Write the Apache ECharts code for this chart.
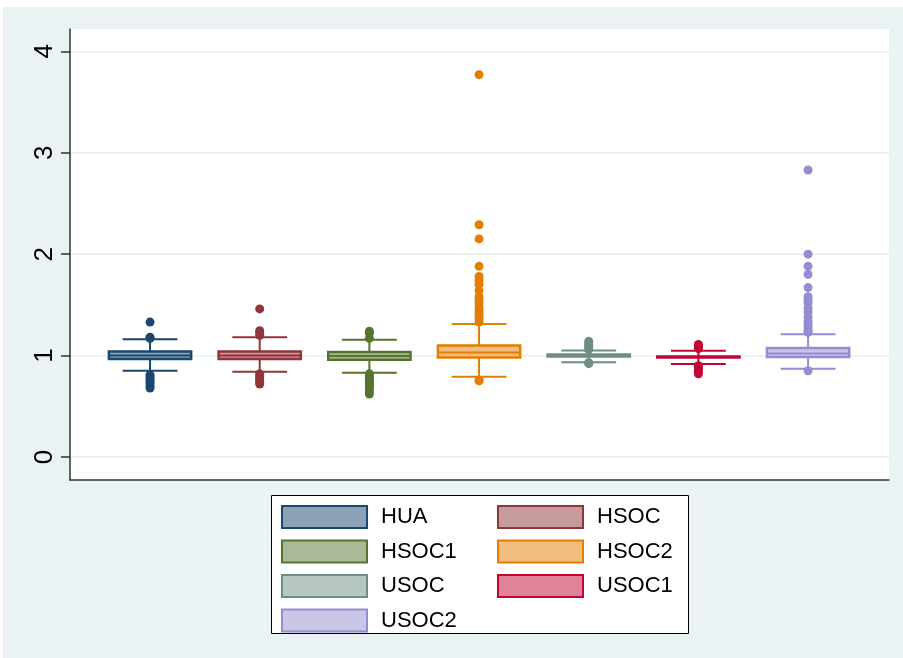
<!DOCTYPE html>
<html><head><meta charset="utf-8">
<script src="https://cdn.jsdelivr.net/npm/echarts@6/dist/echarts.min.js"></script>
<style>html,body{margin:0;padding:0;background:#fff}#c{width:903px;height:658px}</style>
</head><body><div id="c"></div>
<script>
const categories = ['HUA', 'HSOC', 'HSOC1', 'HSOC2', 'USOC', 'USOC1', 'USOC2'];
// [lower whisker, Q1, median, Q3, upper whisker]
const boxHUA   = [0.85, 0.965, 1.00, 1.04, 1.16];
const boxHSOC  = [0.84, 0.965, 1.00, 1.04, 1.18];
const boxHSOC1 = [0.83, 0.958, 0.995, 1.035, 1.156];
const boxHSOC2 = [0.79, 0.98, 1.03, 1.10, 1.31];
const boxUSOC  = [0.935, 0.99, 1.00, 1.01, 1.05];
const boxUSOC1 = [0.916, 0.98, 0.985, 0.99, 1.047];
const boxUSOC2 = [0.87, 0.985, 1.02, 1.075, 1.21];
// outliers
const outHUA   = [1.33, 1.18, 1.17, 0.81, 0.79, 0.77, 0.75, 0.73, 0.70, 0.68];
const outHSOC  = [1.46, 1.245, 1.225, 1.20, 0.82, 0.80, 0.78, 0.76, 0.74, 0.72];
const outHSOC1 = [1.24, 1.22, 1.17, 0.82, 0.80, 0.78, 0.76, 0.74, 0.72, 0.70, 0.68, 0.65, 0.62];
const outHSOC2 = [3.77, 2.29, 2.15, 1.88, 1.78, 1.74, 1.70, 1.64, 1.58, 1.55, 1.52, 1.48, 1.45, 1.42, 1.39, 1.36, 1.33, 0.76, 0.75];
const outUSOC  = [1.14, 1.12, 1.10, 1.08, 1.06, 0.93, 0.92];
const outUSOC1 = [1.11, 1.09, 1.07, 0.90, 0.88, 0.86, 0.84, 0.82];
const outUSOC2 = [2.83, 2.00, 1.88, 1.80, 1.67, 1.58, 1.55, 1.52, 1.47, 1.43, 1.38, 1.34, 1.31, 1.28, 1.25, 1.23, 0.85];
const yTicks = [0, 1, 2, 3, 4];

const boxes = [boxHUA, boxHSOC, boxHSOC1, boxHSOC2, boxUSOC, boxUSOC1, boxUSOC2];
const outs = [outHUA, outHSOC, outHSOC1, outHSOC2, outUSOC, outUSOC1, outUSOC2];
const lineColors = ['#1a476f', '#90353b', '#55752f', '#e37e00', '#6e8e84', '#c10534', '#938dd2'];
const fillColors = ['#8ca3b7', '#c79a9d', '#aaba97', '#f1be80', '#b7c7c2', '#e0829a', '#c9c6e8'];

function makeRender(lc, fc) {
  return function (params, api) {
    const i = api.value(0);
    const lo = api.coord([i, api.value(1)]);
    const q1 = api.coord([i, api.value(2)]);
    const md = api.coord([i, api.value(3)]);
    const q3 = api.coord([i, api.value(4)]);
    const hi = api.coord([i, api.value(5)]);
    const band = api.size([1, 0])[0];
    const bw = band * 0.75, cw = band * 0.5;
    const cx = lo[0];
    const ls = { stroke: lc, lineWidth: 2, fill: null };
    return {
      type: 'group',
      children: [
        { type: 'line', shape: { x1: cx, y1: hi[1], x2: cx, y2: q3[1] }, style: ls },
        { type: 'line', shape: { x1: cx, y1: q1[1], x2: cx, y2: lo[1] }, style: ls },
        { type: 'line', shape: { x1: cx - cw / 2, y1: hi[1], x2: cx + cw / 2, y2: hi[1] }, style: ls },
        { type: 'line', shape: { x1: cx - cw / 2, y1: lo[1], x2: cx + cw / 2, y2: lo[1] }, style: ls },
        { type: 'rect', shape: { x: cx - bw / 2, y: q3[1], width: bw, height: q1[1] - q3[1] },
          style: { fill: fc, stroke: lc, lineWidth: 2.5 } },
        { type: 'line', shape: { x1: cx - bw / 2, y1: md[1], x2: cx + bw / 2, y2: md[1] }, style: ls }
      ]
    };
  };
}

const series = [];
categories.forEach((name, k) => {
  series.push({
    name: name, type: 'custom', xAxisIndex: 1, yAxisIndex: 1, z: 2,
    renderItem: makeRender(lineColors[k], fillColors[k]),
    data: [[k].concat(boxes[k])],
    encode: { x: 0, y: [1, 2, 3, 4, 5] },
    silent: true
  });
});
categories.forEach((name, k) => {
  series.push({
    name: name, type: 'scatter', xAxisIndex: 1, yAxisIndex: 1, z: 3,
    symbol: 'circle', symbolSize: 9,
    itemStyle: { color: lineColors[k], opacity: 1 },
    data: outs[k].map(v => [k, v]),
    silent: true
  });
});

const legendItem = (k) => ({
  name: categories[k], icon: 'rect',
  itemStyle: { color: fillColors[k], borderColor: lineColors[k], borderWidth: 2 }
});
const legendCommon = {
  orient: 'vertical', itemWidth: 85, itemHeight: 22, itemGap: 10.5,
  selectedMode: false, padding: 0,
  textStyle: { fontSize: 22, color: '#000', fontFamily: 'Liberation Sans, Arial, sans-serif', padding: [0, 0, 0, 9] }
};

const yMin = -0.227, yMax = 4.22;
const chart = echarts.init(document.getElementById('c'), null, { renderer: 'canvas' });
chart.setOption({
  backgroundColor: '#ffffff',
  animation: false,
  graphic: [
    { type: 'rect', left: 3, top: 7, z: -100, shape: { width: 900, height: 651 }, style: { fill: '#eaf2f3' } },
    { type: 'rect', left: 271, top: 495, z: 1, shape: { width: 417, height: 138 }, style: { fill: '#fff', stroke: '#000', lineWidth: 1 } }
  ],
  legend: [
    Object.assign({ left: 281, top: 505, data: [0, 2, 4, 6].map(legendItem) }, legendCommon),
    Object.assign({ left: 497, top: 505, data: [1, 3, 5].map(legendItem) }, legendCommon)
  ],
  grid: [
    { left: 70, right: 14, top: 29, bottom: 178, show: true, backgroundColor: '#ffffff', borderWidth: 0 },
    { left: 95.2, right: 40.1, top: 29, bottom: 178, show: false }
  ],
  xAxis: [
    { type: 'value', gridIndex: 0, min: 0, max: 1,
      axisLine: { show: true, onZero: false, lineStyle: { color: '#333', width: 1.5 } },
      axisTick: { show: false }, axisLabel: { show: false }, splitLine: { show: false } },
    { type: 'category', gridIndex: 1, data: categories, show: false, boundaryGap: true }
  ],
  yAxis: [
    { type: 'value', gridIndex: 0, min: yMin, max: yMax,
      axisLine: { show: true, onZero: false, lineStyle: { color: '#333', width: 1.5 } },
      axisTick: { show: true, length: 9, customValues: yTicks, lineStyle: { color: '#333', width: 1.5 } },
      axisLabel: { show: true, customValues: yTicks, rotate: 90, fontSize: 26, color: '#000', margin: 12,
        fontFamily: 'Liberation Sans, Arial, sans-serif' },
      splitLine: { show: true, lineStyle: { color: '#eaf2f3', width: 2 } } },
    { type: 'value', gridIndex: 1, min: yMin, max: yMax, show: false, splitLine: { show: false } }
  ],
  series: series
});
</script>
</body></html>
